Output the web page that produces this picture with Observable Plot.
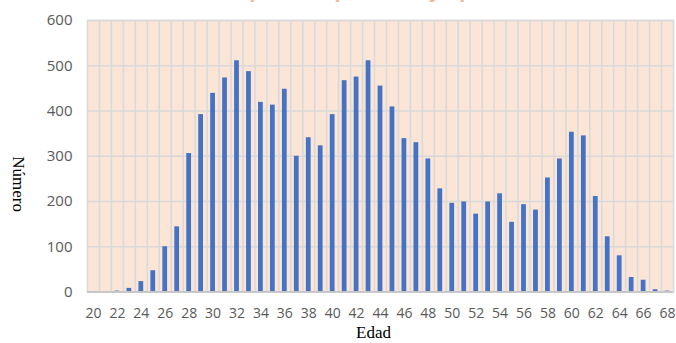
<!DOCTYPE html>
<html>
<head>
<meta charset="utf-8">
<script src="https://cdn.jsdelivr.net/npm/d3@7"></script>
<script src="https://cdn.jsdelivr.net/npm/@observablehq/plot@0.6"></script>
<style>
  html, body { margin: 0; padding: 0; background: #fff; overflow: hidden; }
  #wrap { position: relative; width: 676px; height: 343px; }
  #title { position: absolute; left: 0; width: 676px; top: -21px; text-align: center;
           font: italic bold 21px "Liberation Sans", sans-serif; color: #F6B3A0; white-space: nowrap; }
  #chart { position: absolute; left: 0; top: 0; }
</style>
</head>
<body>
<div id="wrap">
  <div id="chart"></div>
  <div id="title">Distribución de la plantilla por edad y tipo de contrato</div>
</div>
<script>
const ages = [20,21,22,23,24,25,26,27,28,29,30,31,32,33,34,35,36,37,38,39,40,41,42,43,44,45,46,47,48,49,50,51,52,53,54,55,56,57,58,59,60,61,62,63,64,65,66,67,68];
const counts = [0,0,2,8,23,47,100,144,306,392,439,473,511,487,419,413,448,300,341,323,392,467,475,511,455,409,339,330,294,228,196,199,172,199,217,154,193,181,252,294,353,345,211,122,80,32,26,5,2];
const xTicks = [20,22,24,26,28,30,32,34,36,38,40,42,44,46,48,50,52,54,56,58,60,62,64,66,68];
const yTicks = [0,100,200,300,400,500,600];
const xLabel = "Edad";
const yLabel = "Número";

const data = ages.map((a, i) => ({age: a, n: counts[i]}));

const chart = Plot.plot({
  width: 676,
  height: 343,
  marginLeft: 87,
  marginRight: 3,
  marginTop: 20,
  marginBottom: 51.5,
  style: {fontFamily: "Open Sans", fontSize: "14px", color: "#595959", background: "transparent"},
  x: {domain: [ages[0] - 0.5, ages[ages.length - 1] + 0.5]},
  y: {domain: [0, 600]},
  marks: [
    Plot.frame({fill: "#FBE5D6", stroke: null}),
    Plot.ruleY(yTicks.slice(1), {stroke: "#D9D9D9", strokeWidth: 1.5}),
    Plot.ruleX(ages.slice(1), {x: d => d - 0.5, stroke: "#D9D9D9", strokeWidth: 1.5}),
    Plot.rectY(data, {x1: d => d.age - 0.5, x2: d => d.age + 0.5, y: "n", fill: "#4472C4", insetLeft: 3.6, insetRight: 3.6}),
    Plot.frame({stroke: "#D9D9D9", strokeWidth: 1.5}),
    Plot.ruleY([0], {stroke: "#BFBFBF", strokeWidth: 1.5}),
    Plot.axisX({ticks: xTicks, tickSize: 0, tickPadding: 16, tickFormat: d => String(d), label: null, fontSize: 14}),
    Plot.axisY({ticks: yTicks, tickSize: 0, tickPadding: 15, label: null, fontSize: 15}),
    Plot.text([xLabel], {frameAnchor: "bottom", dx: -7, dy: 46, fontFamily: "Liberation Serif", fontSize: 17, fill: "#000"}),
    Plot.text([yLabel], {frameAnchor: "left", dx: -69, rotate: 90, fontFamily: "Liberation Serif", fontSize: 17, fill: "#000"})
  ]
});
document.getElementById("chart").appendChild(chart);
</script>
</body>
</html>
